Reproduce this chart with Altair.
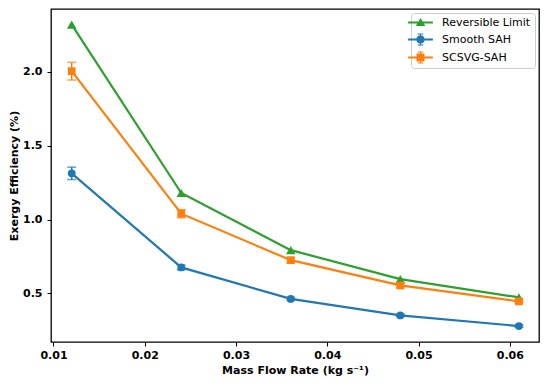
import altair as alt
import pandas as pd

flow = [0.012, 0.024, 0.036, 0.048, 0.061]
series_names = ["Reversible Limit", "Smooth SAH", "SCSVG-SAH"]
reversible = [2.32, 1.18, 0.793, 0.597, 0.473]
smooth = [1.313, 0.676, 0.463, 0.351, 0.279]
smooth_err = [0.042, 0.016, 0.010, 0.008, 0.008]
scsvg = [2.005, 1.04, 0.725, 0.554, 0.446]
scsvg_err = [0.06, 0.028, 0.018, 0.014, 0.012]
colors = ["#2ca02c", "#1f77b4", "#ff7f0e"]
marker_shapes = ["triangle-up", "circle", "square"]
x_ticks = [0.01, 0.02, 0.03, 0.04, 0.05, 0.06]
y_ticks = [0.5, 1.0, 1.5, 2.0]

values = [reversible, smooth, scsvg]
errors = [[0] * 5, smooth_err, scsvg_err]

rows = []
for name, vals, errs in zip(series_names, values, errors):
    for f, v, e in zip(flow, vals, errs):
        rows.append({"series": name, "flow": f, "eff": v, "lo": v - e, "hi": v + e})
df = pd.DataFrame(rows)

xs = alt.Scale(domain=[0.00973, 0.0632], nice=False, zero=False)
ys = alt.Scale(domain=[0.171, 2.426], nice=False, zero=False)
X = alt.X("flow:Q", scale=xs, axis=alt.Axis(values=x_ticks, format=".2f",
          title="Mass Flow Rate (kg s⁻¹)"))
Y = alt.Y("eff:Q", scale=ys, axis=alt.Axis(values=y_ticks, format=".1f",
          title="Exergy Efficiency (%)"))

layers = []
for i, (name, col, shp) in enumerate(zip(series_names, colors, marker_shapes)):
    base = alt.Chart(df).transform_filter(alt.datum.series == name)
    layers.append(base.mark_line(color=col, strokeWidth=2.2).encode(x=X, y=Y))
    if i > 0:
        layers.append(base.mark_rule(color=col, strokeWidth=1.5).encode(
            x="flow:Q", y=alt.Y("lo:Q", scale=ys), y2="hi:Q"))
        layers.append(base.mark_tick(color=col, orient="horizontal", size=9, thickness=1.5).encode(
            x="flow:Q", y=alt.Y("lo:Q", scale=ys)))
        layers.append(base.mark_tick(color=col, orient="horizontal", size=9, thickness=1.5).encode(
            x="flow:Q", y=alt.Y("hi:Q", scale=ys)))
    size = 90 if shp == "triangle-up" else 60
    layers.append(base.mark_point(filled=True, color=col, shape=shp, size=size, opacity=1).encode(x=X, y=Y))

# legend-only layer (no data drawn)
line_part = "M-3.1,-0.27H3.1V0.27H-3.1Z"
ebar = "M-0.13,-1.5H0.13V1.5H-0.13ZM-0.7,-1.5H0.7V-1.25H-0.7ZM-0.7,1.25H0.7V1.5H-0.7Z"
legend_paths = [
    line_part + "M0,-1.15L1.2,0.9L-1.2,0.9Z",
    line_part + ebar + "M1.05,0A1.05,1.05,0,1,1,-1.05,0A1.05,1.05,0,1,1,1.05,0Z",
    line_part + ebar + "M-1,-1H1V1H-1Z",
]
legend_layer = alt.Chart(df).transform_filter("false").mark_point(filled=True, opacity=1).encode(
    x=X, y=Y,
    color=alt.Color("series:N", scale=alt.Scale(domain=series_names, range=colors),
                    legend=alt.Legend(title=None, orient="top-right", offset=4,
                                      symbolSize=64, labelOffset=16, padding=4,
                                      strokeColor="#cccccc", fillColor="white",
                                      cornerRadius=3, rowPadding=5,
                                      labelFontSize=11, labelFont="DejaVu Sans",
                                      labelColor="black")),
    shape=alt.Shape("series:N", scale=alt.Scale(domain=series_names, range=legend_paths),
                    legend=alt.Legend(title=None)),
)
layers.append(legend_layer)

chart = alt.layer(*layers).properties(
    width=488, height=333,
    autosize=alt.AutoSizeParams(type="none"),
    padding={"left": 43, "top": 1, "right": 3, "bottom": 36},
).configure_view(stroke="black", strokeWidth=1.3).configure_axis(
    domain=False, grid=False, ticks=True, tickColor="black", tickSize=4, tickWidth=1,
    labelFont="DejaVu Sans", labelFontWeight="bold", labelFontSize=11, labelColor="black",
    titleFont="DejaVu Sans", titleFontWeight="bold", titleFontSize=11, titleColor="black",
).configure_axisX(labelPadding=3, titlePadding=4).configure_axisY(labelPadding=5, titlePadding=3)

chart.save("out.html", embed_options={"renderer": "svg", "actions": False})
